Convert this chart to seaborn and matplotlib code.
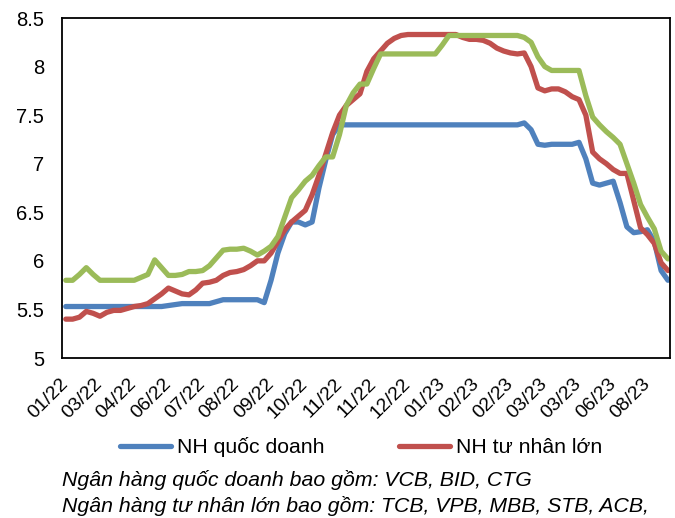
import matplotlib
matplotlib.use("Agg")
import matplotlib.pyplot as plt
import seaborn as sns
import pandas as pd
import numpy as np

tick_labels = ["01/22", "03/22", "04/22", "06/22", "07/22", "08/22", "09/22", "10/22", "11/22",
               "11/22", "12/22", "01/23", "02/23", "02/23", "03/23", "03/23", "06/23", "08/23"]

quoc_doanh = [5.53]*15 + [5.54, 5.55] + [5.56]*5 + [5.58] + [5.60]*6 + \
    [5.57, 5.80, 6.08, 6.28, 6.40, 6.40, 6.37, 6.40, 6.75, 7.04, 7.30, 7.40] + [7.40]*26 + \
    [7.42, 7.35, 7.20, 7.19, 7.20, 7.20, 7.20, 7.20, 7.22, 7.05, 6.80, 6.78, 6.80, 6.82,
     6.60, 6.35, 6.29, 6.30, 6.32, 6.20, 5.90, 5.80]

tu_nhan_lon = [5.40, 5.40, 5.42, 5.48, 5.46, 5.43, 5.47, 5.49, 5.49, 5.51,
               5.53, 5.54, 5.56, 5.61, 5.66, 5.72, 5.69, 5.66, 5.65, 5.70,
               5.77, 5.78, 5.80, 5.85, 5.88, 5.89, 5.91, 5.95, 6.00, 6.00,
               6.08, 6.20, 6.32, 6.40, 6.46, 6.52, 6.68, 6.88, 7.10, 7.32,
               7.50, 7.60, 7.66, 7.72, 7.95, 8.08, 8.16, 8.24, 8.29, 8.32] + [8.33]*8 + \
    [8.30, 8.28, 8.28, 8.27, 8.24, 8.19, 8.16, 8.14, 8.13, 8.14,
     8.00, 7.78, 7.75, 7.77, 7.77, 7.74, 7.69, 7.66, 7.50, 7.12,
     7.05, 7.00, 6.94, 6.90, 6.90, 6.62, 6.34, 6.27, 6.18, 5.98, 5.90]

khac = [5.80, 5.80, 5.86, 5.93, 5.86, 5.80] + [5.80]*5 + \
    [5.83, 5.86, 6.01, 5.93, 5.85, 5.85, 5.86, 5.89, 5.89, 5.90,
     5.95, 6.03, 6.11, 6.12, 6.12, 6.13, 6.10, 6.06, 6.10, 6.15,
     6.25, 6.45, 6.65, 6.73, 6.82, 6.88, 6.98, 7.07, 7.07, 7.30,
     7.60, 7.73, 7.82, 7.82, 7.98, 8.13] + [8.13]*8 + [8.22, 8.32] + [8.32]*10 + \
    [8.30, 8.25, 8.10, 8.00, 7.96] + [7.96]*4 + \
    [7.70, 7.48, 7.40, 7.33, 7.27, 7.20, 7.00, 6.80, 6.58, 6.45, 6.33, 6.10, 6.02]

series_names = ["NH quốc doanh", "NH tư nhân lớn", "NH khác"]
colors = ["#4F81BD", "#C0504D", "#9BBB59"]

sns.set_theme(style="white")
plt.rcParams['font.family'] = ['Liberation Sans', 'DejaVu Sans']
plt.rcParams['text.color'] = 'black'
plt.rcParams['xtick.color'] = 'black'
plt.rcParams['ytick.color'] = 'black'

n = len(quoc_doanh)
idx = np.arange(n)
df = pd.DataFrame({
    "x": np.concatenate([idx, idx, idx]),
    "y": quoc_doanh + tu_nhan_lon + khac,
    "series": [series_names[0]]*n + [series_names[1]]*len(tu_nhan_lon) + [series_names[2]]*len(khac),
})

fig = plt.figure(figsize=(6.75, 5.18), dpi=100)
ax = fig.add_axes([62/675, 1-358/518, (670-62)/675, (358-18)/518])

for name, col in zip(series_names, colors):
    sns.lineplot(data=df[df.series == name], x="x", y="y", color=col, lw=3.8,
                 ax=ax, label=name, solid_joinstyle="round", solid_capstyle="round")

ax.set_xlim(-0.55, n - 1 + 0.3)
ax.set_ylim(5, 8.5)
ax.set_yticks(np.arange(5, 8.51, 0.5))
ax.set_yticklabels(["5", "5.5", "6", "6.5", "7", "7.5", "8", "8.5"], fontsize=14.5)
ax.set_xticks(np.arange(0, n, 5)[:len(tick_labels)])
ax.set_xticklabels(tick_labels, rotation=45, ha="right", va="center",
                   rotation_mode="anchor", fontsize=14)
ax.tick_params(axis="y", length=0, pad=13)
ax.tick_params(axis="x", length=0, pad=17)
ax.set_xlabel("")
ax.set_ylabel("")
for s in ax.spines.values():
    s.set_color("black")
    s.set_linewidth(1.3)
ax.grid(False)

handles, labels = ax.get_legend_handles_labels()
ax.legend_.remove()
fig.legend(handles[:2], labels[:2], loc="center left", bbox_to_anchor=(101/675, 1-447/518),
           ncol=2, frameon=False, fontsize=15.3, handlelength=2.4, columnspacing=3.5,
           handletextpad=0.28)

fig.text(62/675, 1-480/518, "Ngân hàng quốc doanh bao gồm: VCB, BID, CTG",
         fontsize=15.3, style="italic", va="center", ha="left")
fig.text(62/675, 1-506/518, "Ngân hàng tư nhân lớn bao gồm: TCB, VPB, MBB, STB, ACB,",
         fontsize=15.3, style="italic", va="center", ha="left")

fig.savefig("out.png", dpi=100)
